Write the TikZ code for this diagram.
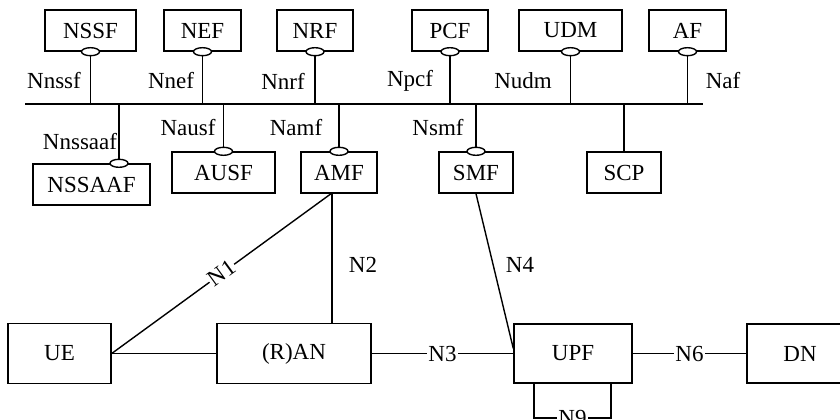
\documentclass[tikz,border=0pt]{standalone}
\usepackage{fontspec}
\setmainfont{Liberation Serif}

\tikzset{
  nfbox/.style={draw, line width=1.4pt, inner sep=0pt, minimum height=41pt,
    font=\fontsize{23}{27}\selectfont},
  iflabel/.style={inner sep=1pt, font=\fontsize{23}{27}\selectfont},
  ifgap/.style={iflabel, fill=white},
  svcport/.style={draw, fill=white, line width=1.4pt}
}

\begin{document}
\begin{tikzpicture}[x=1pt, y=-1pt, line width=1.4pt, line cap=butt, line join=miter]

  %% ════ canvas ════
  \clip (0,0) rectangle (840,420);

  %% ════ top row NFs ════
  \node[nfbox, minimum width=91pt]  (nssf) at (90.5,30.5)  {NSSF};
  \node[nfbox, minimum width=77pt]  (nef)  at (202.5,30.5) {NEF};
  \node[nfbox, minimum width=76pt]  (nrf)  at (315,30.5)   {NRF};
  \node[nfbox, minimum width=76pt]  (pcf)  at (450,30.5)   {PCF};
  \node[nfbox, minimum width=103pt] (udm)  at (570.5,30.5) {UDM};
  \node[nfbox, minimum width=77pt]  (af)   at (687.5,30.5) {AF};

  %% ════ second row NFs ════
  \node[nfbox, minimum width=117pt] (nssaaf) at (91.5,184.5) {NSSAAF};
  \node[nfbox, minimum width=103pt] (ausf)   at (223.5,172.5) {AUSF};
  \node[nfbox, minimum width=76pt]  (amf)    at (339,172.5)   {AMF};
  \node[nfbox, minimum width=74pt]  (smf)    at (476,172.5)   {SMF};
  \node[nfbox, minimum width=74pt]  (scp)    at (624,172.5)   {SCP};

  %% ════ user plane ════
  \node[nfbox, minimum width=103pt, minimum height=60pt] (ue)  at (59.5,353.5) {UE};
  \node[nfbox, minimum width=154pt, minimum height=60pt] (ran) at (294,353.5)  {(R)AN};
  \node[nfbox, minimum width=118pt, minimum height=59pt] (upf) at (573,353.5)  {UPF};
  \node[nfbox, minimum width=106pt, minimum height=59pt] (dn)  at (800,353.5)  {DN};

  %% ════ service bus ════
  \coordinate (busw) at (25,104);
  \coordinate (buse) at (703,104);
  \coordinate (nssaafj) at (119,104);
  \draw (busw) -- (buse);

  \foreach \nf in {nssf,nef,nrf,pcf,udm,af}
    \draw (\nf.south) -- (\nf.south |- busw);
  \foreach \nf in {ausf,amf,smf,scp}
    \draw (\nf.north) -- (\nf.north |- busw);
  \draw (nssaafj) -- (nssaafj |- nssaaf.north);

  % service ports
  \foreach \nf in {nssf,nef,nrf,pcf,udm,af}
    \draw[svcport] (\nf.south) ellipse (9 and 4);
  \foreach \nf in {ausf,amf,smf}
    \draw[svcport] (\nf.north) ellipse (9 and 4);
  \draw[svcport] (nssaafj |- nssaaf.north) ellipse (9 and 4);

  %% ════ service interface labels ════
  \node[iflabel] (lnssf)   at (54,81)   {Nnssf};
  \node[iflabel] (lnef)    at (171,81)  {Nnef};
  \node[iflabel] (lnrf)    at (283,81)  {Nnrf};
  \node[iflabel] (lpcf)    at (410,81)  {Npcf};
  \node[iflabel] (ludm)    at (523,81)  {Nudm};
  \node[iflabel] (laf)     at (723,81)  {Naf};
  \node[iflabel] (lnssaaf) at (80,142)  {Nnssaaf};
  \node[iflabel] (lausf)   at (188,128) {Nausf};
  \node[iflabel] (lamf)    at (296,128) {Namf};
  \node[iflabel] (lsmf)    at (438,128) {Nsmf};

  %% ════ reference points ════
  \coordinate (amfb) at (332,193);
  \draw (ue.east) -- (ran.west);
  \draw (ue.east) -- node[ifgap, sloped] (ln1) {N1} (amfb);
  \draw (amfb) -- (amfb |- ran.north);
  \node[iflabel] (ln2) at (363,265) {N2};
  \draw (ran.east) -- node[ifgap] (ln3) {N3} (upf.west);
  \draw (smf.south) -- ([yshift=5pt]upf.west);
  \node[iflabel] (ln4) at (520,265) {N4};
  \draw (upf.east) -- node[ifgap] (ln6) {N6} (dn.west);

  % N9 loop
  \coordinate (n9l) at (534,418);
  \coordinate (n9r) at (611,418);
  \draw (upf.south -| n9l) -- (n9l) -- node[ifgap] (ln9) {N9} (n9r) -- (n9r |- upf.south);
\end{tikzpicture}
\end{document}
